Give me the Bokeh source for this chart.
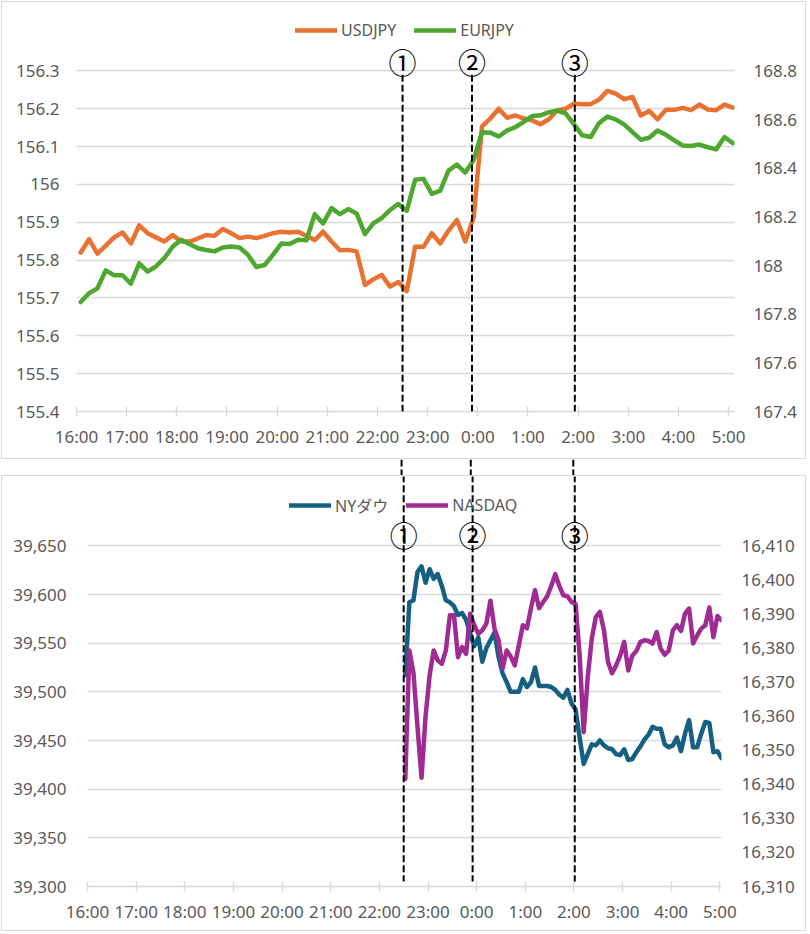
from bokeh.plotting import figure
from bokeh.models import (Range1d, LinearAxis, FixedTicker, CustomJSTickFormatter,
                          NumeralTickFormatter, Legend, LegendItem, Arrow, Span, Label)
from bokeh.layouts import column
from bokeh.embed import file_html
from bokeh.resources import INLINE

# ---------------- data ----------------
hour_labels = ["16:00", "17:00", "18:00", "19:00", "20:00", "21:00", "22:00",
               "23:00", "0:00", "1:00", "2:00", "3:00", "4:00", "5:00"]

top_start, top_step = "16:05", 10      # 10-minute data, top chart
bottom_start, bottom_step = "22:32", 5  # 5-minute data, bottom chart

usdjpy = [155.820, 155.855, 155.817, 155.838, 155.860, 155.873, 155.844, 155.892, 155.871, 155.860,
          155.849, 155.866, 155.849, 155.849, 155.857, 155.866, 155.864, 155.882, 155.871, 155.858,
          155.862, 155.858, 155.864, 155.871, 155.875, 155.873, 155.875, 155.864, 155.853, 155.875,
          155.849, 155.826, 155.827, 155.823, 155.734, 155.749, 155.761, 155.730, 155.742, 155.718,
          155.835, 155.835, 155.871, 155.844, 155.878, 155.906, 155.849, 155.913, 156.153, 156.174,
          156.200, 156.176, 156.182, 156.174, 156.169, 156.159, 156.172, 156.196, 156.200, 156.213,
          156.212, 156.212, 156.224, 156.247, 156.240, 156.225, 156.231, 156.182, 156.194, 156.172,
          156.197, 156.197, 156.202, 156.196, 156.211, 156.198, 156.196, 156.211, 156.203]

eurjpy = [167.850, 167.886, 167.906, 167.980, 167.960, 167.960, 167.925, 168.009, 167.975, 167.996,
          168.030, 168.077, 168.106, 168.088, 168.071, 168.064, 168.058, 168.074, 168.078, 168.074,
          168.044, 167.994, 168.002, 168.044, 168.090, 168.088, 168.106, 168.104, 168.211, 168.173,
          168.236, 168.211, 168.232, 168.214, 168.129, 168.173, 168.195, 168.228, 168.253, 168.225,
          168.352, 168.356, 168.294, 168.308, 168.390, 168.415, 168.382, 168.434, 168.548, 168.546,
          168.530, 168.555, 168.569, 168.590, 168.614, 168.617, 168.630, 168.636, 168.625, 168.580,
          168.535, 168.528, 168.585, 168.612, 168.600, 168.580, 168.548, 168.517, 168.525, 168.555,
          168.537, 168.514, 168.493, 168.491, 168.497, 168.486, 168.477, 168.528, 168.503]

ny_dow = [39517, 39592, 39594, 39623, 39629, 39612, 39626, 39616, 39621, 39609,
          39594, 39592, 39588, 39579, 39581, 39574, 39560, 39547, 39556, 39531,
          39545, 39553, 39561, 39536, 39519, 39510, 39500, 39500, 39500, 39513,
          39505, 39510, 39525, 39506, 39506, 39506, 39505, 39502, 39497, 39494,
          39502, 39488, 39482, 39453, 39426, 39436, 39446, 39445, 39450, 39445,
          39442, 39441, 39436, 39435, 39441, 39430, 39431, 39438, 39444, 39451,
          39456, 39464, 39462, 39462, 39446, 39443, 39445, 39453, 39439, 39457,
          39471, 39443, 39443, 39457, 39469, 39468, 39438, 39439, 39432]

nasdaq = [16341.6, 16379.3, 16372.8, 16357.0, 16341.9, 16360.0, 16372.0, 16379.3, 16376.4, 16375.4,
          16379.3, 16389.6, 16389.6, 16377.3, 16380.3, 16378.3, 16390.1, 16386.7, 16384.2, 16385.2,
          16387.2, 16393.9, 16385.7, 16382.3, 16374.0, 16379.3, 16377.5, 16374.9, 16380.8, 16386.7,
          16385.8, 16391.7, 16397.0, 16391.7, 16393.5, 16395.2, 16398.2, 16401.7, 16398.2, 16395.5,
          16395.2, 16393.5, 16392.9, 16378.0, 16355.3, 16371.4, 16382.8, 16389.1, 16390.6, 16385.2,
          16375.9, 16372.6, 16374.9, 16377.8, 16381.8, 16373.4, 16377.8, 16379.1, 16381.8, 16382.3,
          16382.1, 16381.3, 16384.7, 16379.8, 16378.0, 16379.3, 16385.2, 16386.7, 16385.0, 16390.1,
          16391.6, 16381.3, 16383.7, 16385.7, 16386.7, 16391.9, 16383.2, 16389.4, 16388.2]

usd_ticks = [155.4, 155.5, 155.6, 155.7, 155.8, 155.9, 156.0, 156.1, 156.2, 156.3]
eur_ticks = [167.4, 167.6, 167.8, 168.0, 168.2, 168.4, 168.6, 168.8]
dow_ticks = [39300, 39350, 39400, 39450, 39500, 39550, 39600, 39650]
nas_ticks = [16310, 16320, 16330, 16340, 16350, 16360, 16370, 16380, 16390, 16400, 16410]

events_top = ["22:30", "23:53", "1:56"]
events_bottom = ["22:30", "23:55", "2:01"]
event_marks = ["①", "②", "③"]

# ---------------- helpers ----------------
def to_min(s):
    h, m = map(int, s.split(":"))
    return ((h - 16) % 24) * 60 + m

top_x = [to_min(top_start) + top_step * i for i in range(len(usdjpy))]
bot_x = [to_min(bottom_start) + bottom_step * i for i in range(len(ny_dow))]
hour_ticks = [to_min(h) for h in hour_labels]
hour_over = {t: lab for t, lab in zip(hour_ticks, hour_labels)}

FONT = "Noto Sans"
JFONT = "Noto Sans, Noto Sans CJK JP"
TXT = "#595959"
GRID = "#D9D9D9"
C_USD, C_EUR, C_DOW, C_NAS = "#E97132", "#4EA72E", "#156082", "#A02B93"
DASH = "7 3"
LW = 4.5
BOX = {"border": "1px solid #D9D9D9"}

PLOT_H = 339          # height of the gridded area in px
TOP_EXT, BOT_EXT = 68, 69   # frame extends above the top gridline (room for marks/legend)

fmt1 = CustomJSTickFormatter(code="return String(Number(tick.toFixed(1)));")


def style_x(ax):
    ax.ticker = FixedTicker(ticks=hour_ticks)
    ax.major_label_overrides = hour_over
    ax.axis_line_color = GRID
    ax.axis_line_width = 1.3
    ax.major_tick_line_color = GRID
    ax.major_tick_line_width = 1.3
    ax.major_tick_in = 5
    ax.major_tick_out = 5
    ax.minor_tick_line_color = None
    ax.major_label_standoff = 8
    ax.major_label_text_font = FONT
    ax.major_label_text_font_size = "17px"
    ax.major_label_text_color = TXT


def style_y(ax, ticks, fmt, standoff):
    ax.ticker = FixedTicker(ticks=ticks)
    ax.formatter = fmt
    ax.axis_line_color = None
    ax.major_tick_line_color = None
    ax.minor_tick_line_color = None
    ax.major_tick_in = 0
    ax.major_tick_out = 0
    ax.major_label_standoff = standoff
    ax.major_label_text_font = FONT
    ax.major_label_text_font_size = "17px"
    ax.major_label_text_color = TXT


def make_legend(items, loc):
    return Legend(items=items, orientation="horizontal", location=loc, padding=0, margin=0,
                  spacing=18, glyph_width=42, glyph_height=18, label_standoff=4,
                  label_height=18, border_line_color=None, background_fill_alpha=0,
                  label_text_font=JFONT, label_text_font_size="16px", label_text_color=TXT)


def ext_range(ticks, ext):
    lo, hi = ticks[0], ticks[-1]
    return Range1d(lo, hi + ext * (hi - lo) / PLOT_H)


# ---------------- top chart ----------------
p1 = figure(frame_width=656, frame_height=PLOT_H + TOP_EXT, min_border_left=74, min_border_right=73,
            min_border_top=0, min_border_bottom=49, frame_align=False,
            x_range=Range1d(0, 787), y_range=ext_range(usd_ticks, TOP_EXT),
            toolbar_location=None, tools="", output_backend="svg", styles=BOX)
p1.extra_y_ranges = {"eur": ext_range(eur_ticks, TOP_EXT)}
p1.outline_line_color = None
p1.xgrid.visible = False
p1.ygrid.ticker = FixedTicker(ticks=usd_ticks)
p1.ygrid.grid_line_color = GRID
p1.ygrid.grid_line_width = 1.3
style_x(p1.xaxis[0])
style_y(p1.yaxis[0], usd_ticks, fmt1, 17)
ax_r1 = LinearAxis(y_range_name="eur")
style_y(ax_r1, eur_ticks, fmt1, 19)
p1.add_layout(ax_r1, "right")

r_usd = p1.line(top_x, usdjpy, line_width=LW, color=C_USD, line_join="round", line_cap="round")
r_eur = p1.line(top_x, eurjpy, line_width=LW, color=C_EUR, line_join="round", line_cap="round",
                y_range_name="eur")

p1.add_layout(make_legend([LegendItem(label="USDJPY", renderers=[r_usd]),
                           LegendItem(label="EURJPY", renderers=[r_eur])], (219, 370)))

u_per_px = (usd_ticks[-1] - usd_ticks[0]) / PLOT_H
for t, mk in zip(events_top, event_marks):
    p1.add_layout(Arrow(end=None, start=None, x_start=to_min(t), x_end=to_min(t),
                        y_start=usd_ticks[-1] - 4 * u_per_px, y_end=usd_ticks[0] - 80 * u_per_px,
                        line_color="black", line_width=2, line_dash=DASH))
    p1.add_layout(Label(x=to_min(t), y=PLOT_H + 10.5, y_units="screen", text=mk,
                        text_align="center", text_baseline="middle",
                        text_font="Noto Sans CJK JP", text_font_size="28px",
                        text_color="black"))

# ---------------- spacer (dashed lines between charts) ----------------
sp = figure(frame_width=656, frame_height=16, min_border_left=75, min_border_right=73,
            min_border_top=0, min_border_bottom=0, frame_align=False,
            x_range=p1.x_range, y_range=Range1d(0, 1),
            x_axis_type=None, y_axis_type=None, toolbar_location=None, tools="",
            output_backend="svg")
sp.outline_line_color = None
for t in events_top:
    sp.add_layout(Span(location=to_min(t), dimension="height", line_color="black",
                       line_width=2, line_dash=DASH))

# ---------------- bottom chart ----------------
p2 = figure(frame_width=632, frame_height=PLOT_H + BOT_EXT, min_border_left=85, min_border_right=86,
            min_border_top=0, min_border_bottom=46, frame_align=False,
            x_range=Range1d(0, 782), y_range=ext_range(dow_ticks, BOT_EXT),
            toolbar_location=None, tools="", output_backend="svg", styles=BOX)
p2.extra_y_ranges = {"nas": ext_range(nas_ticks, BOT_EXT)}
p2.outline_line_color = None
p2.xgrid.visible = False
p2.ygrid.ticker = FixedTicker(ticks=dow_ticks)
p2.ygrid.grid_line_color = GRID
p2.ygrid.grid_line_width = 1.3
style_x(p2.xaxis[0])
style_y(p2.yaxis[0], dow_ticks, NumeralTickFormatter(format="0,0"), 21)
ax_r2 = LinearAxis(y_range_name="nas")
style_y(ax_r2, nas_ticks, NumeralTickFormatter(format="0,0"), 20)
p2.add_layout(ax_r2, "right")

r_dow = p2.line(bot_x, ny_dow, line_width=LW, color=C_DOW, line_join="round", line_cap="round")
r_nas = p2.line(bot_x, nasdaq, line_width=LW, color=C_NAS, line_join="round", line_cap="round",
                y_range_name="nas")

p2.add_layout(make_legend([LegendItem(label="NYダウ", renderers=[r_dow]),
                           LegendItem(label="NASDAQ", renderers=[r_nas])], (202, 369)))

d_per_px = (dow_ticks[-1] - dow_ticks[0]) / PLOT_H
for t, mk in zip(events_bottom, event_marks):
    p2.add_layout(Arrow(end=None, start=None, x_start=to_min(t), x_end=to_min(t),
                        y_start=dow_ticks[-1] + 120 * d_per_px, y_end=dow_ticks[0] + 5 * d_per_px,
                        line_color="black", line_width=2, line_dash=DASH))
    p2.add_layout(Label(x=to_min(t), y=PLOT_H + 13, y_units="screen", text=mk,
                        text_align="center", text_baseline="middle",
                        text_font="Noto Sans CJK JP", text_font_size="28px",
                        text_color="black"))

layout = column(p1, sp, p2, styles={"margin-left": "1px", "margin-top": "1px"})
open("out.html", "w").write(file_html(layout, INLINE))
